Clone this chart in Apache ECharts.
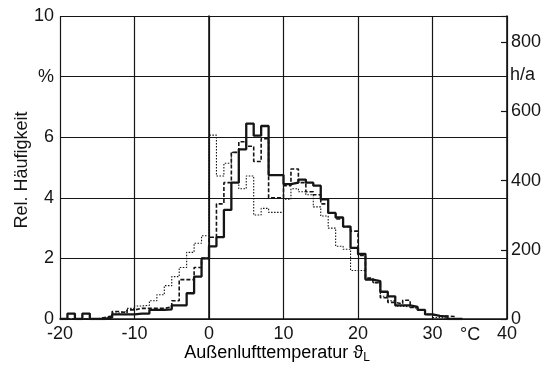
<!DOCTYPE html>
<html>
<head>
<meta charset="utf-8">
<script src="https://cdn.jsdelivr.net/npm/echarts@6/dist/echarts.min.js"></script>
<style>
html,body{margin:0;padding:0;background:#fff;}
#c{width:549px;height:369px;}
</style>
</head>
<body>
<div id="c"></div>
<script>
// Temperature bins (lower edge, °C), each 1 K wide
const bins = [-20,-19,-18,-17,-16,-15,-14,-13,-12,-11,-10,-9,-8,-7,-6,-5,-4,-3,-2,-1,
  0,1,2,3,4,5,6,7,8,9,10,11,12,13,14,15,16,17,18,19,20,21,22,23,24,25,26,27,28,29,30,31,32,33];
// Relative frequency in % (heavy solid line)
const seriesSolid = [0,0.18,0,0.18,0,0,0.05,0.15,0.15,0.15,0.18,0.18,0.3,0.3,0.32,0.45,0.45,0.85,1.4,2.0,
  2.4,2.7,3.6,4.5,5.6,6.45,6.05,6.37,4.75,4.75,4.45,4.5,4.6,4.5,4.4,3.95,3.5,3.35,3.05,2.35,2.15,1.3,1.25,0.9,0.75,0.45,0.45,0.4,0.3,0.15,0.1,0.08,0,0];
// Relative frequency in % (dashed line)
const seriesDashed = [0,0,0,0,0,0.05,0.1,0.25,0.2,0.3,0.35,0.35,0.35,0.35,0.4,0.6,1.3,1.3,1.7,2.0,
  2.7,3.8,4.5,5.5,5.85,5.7,5.2,5.95,4.0,4.0,4.4,4.95,4.5,4.2,4.1,3.8,3.5,3.3,3.05,2.9,2.1,1.35,1.2,0.7,0.55,0.5,0.62,0.38,0.3,0.15,0.1,0.1,0.08,0];
// Relative frequency in % (dotted line)
const seriesDotted = [0,0,0,0,0,0,0.05,0.2,0.25,0.35,0.43,0.45,0.6,0.8,1.1,1.4,1.7,2.2,2.5,2.75,
  6.07,4.72,5.14,5.5,4.3,4.72,3.43,3.65,3.52,3.52,3.95,4.3,4.2,4.1,3.7,3.4,3.0,2.4,2.3,1.6,1.6,1.3,1.2,0.75,0.6,0.42,0.4,0.35,0.28,0.15,0.05,0.03,0,0];

const xTickLabels = {'-20':'-20','-10':'-10','0':'0','10':'10','20':'20','30':'30','40':'40'};
const leftTickLabels = {'0':'0','2':'2','4':'4','6':'6','8':'%','10':'10'};
const rightTickLabels = {'0':'0','200':'200','400':'400','600':'600','800':'800'};
const hoursPerYear = 8760;

function toData(vals){
  const d = bins.map((t,i)=>[t, vals[i]]);
  d.push([bins[bins.length-1]+1, 0]);
  return d;
}

const FONT = 'Liberation Sans, Arial, sans-serif';
const INK = '#151515';
const chart = echarts.init(document.getElementById('c'), null, {renderer:'canvas'});
chart.setOption({
  animation:false,
  backgroundColor:'#ffffff',
  grid:{left:60,right:42,top:16,bottom:50},
  xAxis:{
    type:'value',min:-20,max:40,interval:10,
    axisLine:{show:true,lineStyle:{color:INK,width:1.6}},
    axisTick:{show:false},
    splitLine:{show:true,lineStyle:{color:INK,width:1.2}},
    axisLabel:{color:INK,fontSize:18,fontFamily:FONT,margin:6,
      formatter:v=>xTickLabels[String(v)]||''}
  },
  yAxis:[{
    type:'value',min:0,max:10,interval:2,position:'left',
    axisLine:{show:true,lineStyle:{color:INK,width:1.6}},
    axisTick:{show:false},
    splitLine:{show:true,lineStyle:{color:INK,width:1.2}},
    axisLabel:{color:INK,fontSize:18,fontFamily:FONT,margin:6,
      formatter:v=>leftTickLabels[String(v)]||''}
  },{
    type:'value',min:0,max:10*hoursPerYear/100,interval:200,position:'right',
    axisLine:{show:true,lineStyle:{color:INK,width:1.6}},
    axisTick:{show:true,inside:true,length:6,lineStyle:{color:INK,width:1.2}},
    splitLine:{show:false},
    axisLabel:{color:INK,fontSize:18,fontFamily:FONT,margin:4,
      formatter:v=>rightTickLabels[String(v)]||''}
  }],
  graphic:[
    {type:'text',left:460,top:326,style:{text:'°C',font:'18px '+FONT,fill:INK}},
    {type:'text',left:510,top:66,style:{text:'h/a',font:'18px '+FONT,fill:INK}},
    {type:'text',x:22,y:170,rotation:Math.PI/2,
      style:{text:'Rel. Häufigkeit',font:'18px '+FONT,fill:INK,align:'center',verticalAlign:'middle'}},
    {type:'text',x:277,y:353,
      style:{text:'{a|Außenlufttemperatur ϑ}{b|L}',align:'center',verticalAlign:'middle',
        rich:{a:{font:'18px '+FONT,color:INK},b:{font:'12px '+FONT,color:INK,padding:[9,0,0,0]}}}}
  ],
  series:[
    {type:'line',step:'end',symbol:'none',data:toData(seriesDotted),
      lineStyle:{color:INK,width:1.1,type:[1.5,1.5]},z:3},
    {type:'line',step:'end',symbol:'none',data:toData(seriesDashed),
      lineStyle:{color:INK,width:1.6,type:[4,2]},z:4},
    {type:'line',step:'end',symbol:'none',data:toData(seriesSolid),
      lineStyle:{color:INK,width:2.3},z:5}
  ]
});
</script>
</body>
</html>
